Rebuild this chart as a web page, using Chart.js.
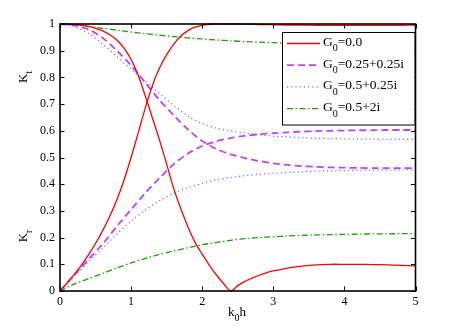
<!DOCTYPE html>
<html>
<head>
<meta charset="utf-8">
<script src="https://cdn.jsdelivr.net/npm/chart.js@4/dist/chart.umd.min.js"></script>
<style>
    html, body { margin: 0; padding: 0; background: #fff; }
    canvas { display: block; }
</style>
</head>
<body>
<canvas id="chart" width="458" height="327"></canvas>
<script>
/* ---------------------------
    DATA
------------------------------ */
const xs = [0, 0.2, 0.4, 0.6, 0.8, 1.0, 1.2, 1.4, 1.6, 1.8, 2.0, 2.2, 2.4, 2.6, 2.8,
    3.0, 3.2, 3.4, 3.6, 3.8, 4.0, 4.2, 4.4, 4.6, 4.8, 5.0];

const xsRed = [0, 0.1, 0.2, 0.3, 0.4, 0.5, 0.6, 0.7, 0.8, 0.9, 1.0, 1.1, 1.2, 1.3, 1.4,
    1.5, 1.6, 1.7, 1.8, 1.9, 2.0, 2.1, 2.2, 2.3, 2.4, 2.5, 2.6, 2.7, 2.8, 2.9, 3.0,
    3.2, 3.4, 3.6, 3.8, 4.0, 4.2, 4.4, 4.6, 4.8, 5.0];

// G0 = 0.0
const redFalling = [1, 1, 0.998, 0.995, 0.991, 0.984, 0.974, 0.96, 0.94, 0.91, 0.868,
    0.808, 0.73, 0.648, 0.565, 0.475, 0.383, 0.308, 0.24, 0.182, 0.138, 0.097, 0.06,
    0.028, 0, 0.02, 0.036, 0.048, 0.059, 0.068, 0.075,
    0.086, 0.093, 0.098, 0.1, 0.1, 0.1, 0.099, 0.098, 0.096, 0.094];
const redRising = [0, 0.03, 0.062, 0.096, 0.135, 0.178, 0.226, 0.28, 0.342, 0.415,
    0.5, 0.592, 0.686, 0.77, 0.835, 0.885, 0.925, 0.955, 0.975, 0.988, 0.995, 0.999,
    1, 1, 1, 1, 0.999, 0.999, 0.998, 0.998, 0.997,
    0.996, 0.996, 0.995, 0.995, 0.995, 0.995, 0.995, 0.995, 0.995, 0.996];

// G0 = 0.25+0.25i
const purpleKt = [1, 0.995, 0.98, 0.948, 0.9, 0.845, 0.78, 0.715, 0.658, 0.605, 0.562,
    0.532, 0.512, 0.498, 0.487, 0.478, 0.472, 0.468, 0.465, 0.463, 0.462, 0.461, 0.46,
    0.46, 0.46, 0.46];
const purpleKr = [0, 0.06, 0.118, 0.176, 0.242, 0.305, 0.367, 0.423, 0.475, 0.515, 0.543,
    0.561, 0.573, 0.581, 0.587, 0.591, 0.594, 0.597, 0.599, 0.6, 0.601, 0.602, 0.602,
    0.603, 0.603, 0.603];

// G0 = 0.5+0.25i
const blueKt = [1, 0.99, 0.965, 0.925, 0.878, 0.83, 0.785, 0.74, 0.695, 0.655, 0.627,
    0.61, 0.6, 0.592, 0.585, 0.58, 0.577, 0.574, 0.572, 0.571, 0.57, 0.569, 0.569,
    0.568, 0.568, 0.568];
const blueKr = [0, 0.055, 0.11, 0.16, 0.213, 0.262, 0.303, 0.338, 0.366, 0.387, 0.403,
    0.416, 0.425, 0.432, 0.437, 0.441, 0.444, 0.447, 0.449, 0.45, 0.451, 0.452, 0.453,
    0.453, 0.454, 0.454];

// G0 = 0.5+2i
const greenKt = [1, 0.997, 0.991, 0.984, 0.977, 0.97, 0.964, 0.958, 0.953, 0.948, 0.944,
    0.94, 0.937, 0.934, 0.932, 0.93, 0.928, 0.927, 0.926, 0.925, 0.924, 0.924, 0.923,
    0.923, 0.922, 0.922];
const greenKr = [0, 0.026, 0.046, 0.066, 0.086, 0.105, 0.122, 0.137, 0.15, 0.162, 0.173,
    0.182, 0.19, 0.196, 0.2, 0.203, 0.206, 0.208, 0.21, 0.211, 0.212, 0.213, 0.214,
    0.214, 0.215, 0.215];

const seriesNames = ["0.0", "0.25+0.25i", "0.5+0.25i", "0.5+2i"];
const xTickLabels = ["0", "1", "2", "3", "4", "5"];
const yTickLabels = ["0", "0.1", "0.2", "0.3", "0.4", "0.5", "0.6", "0.7", "0.8", "0.9", "1"];

/* ---------------------------
    STYLES
------------------------------ */
const SERIF = "'Liberation Serif', 'Times New Roman', serif";
const styles = [
    { color: "#ff0000", width: 1.3, dash: [] },
    { color: "#bf40ff", width: 1.8, dash: [7, 4] },
    { color: "#6b6bff", width: 1.2, dash: [1.2, 3] },
    { color: "#1f9e0f", width: 1.3, dash: [6, 2.5, 1.5, 2.5] }
];

function pts(xArr, yArr) {
    return xArr.map((x, i) => ({ x: x, y: yArr[i] }));
}

function line(xArr, yArr, s) {
    return {
        data: pts(xArr, yArr),
        borderColor: s.color,
        borderWidth: s.width,
        borderDash: s.dash,
        pointRadius: 0,
        tension: 0.3,
        fill: false,
        clip: 3
    };
}

const datasets = [
    line(xsRed, redFalling, styles[0]),
    line(xsRed, redRising, styles[0]),
    line(xs, purpleKt, styles[1]),
    line(xs, purpleKr, styles[1]),
    line(xs, blueKt, styles[2]),
    line(xs, blueKr, styles[2]),
    line(xs, greenKt, styles[3]),
    line(xs, greenKr, styles[3])
];

/* ---------------------------
    TEXT WITH SUBSCRIPT
------------------------------ */
function subText(ctx, x, y, main, sub, rest, size) {
    ctx.font = size + "px " + SERIF;
    ctx.fillText(main, x, y);
    let w = ctx.measureText(main).width;
    ctx.font = Math.round(size * 0.75) + "px " + SERIF;
    ctx.fillText(sub, x + w, y + size * 0.4);
    w += ctx.measureText(sub).width;
    ctx.font = size + "px " + SERIF;
    ctx.fillText(rest, x + w, y);
}

function subWidth(ctx, main, sub, rest, size) {
    ctx.font = size + "px " + SERIF;
    let w = ctx.measureText(main).width + ctx.measureText(rest).width;
    ctx.font = Math.round(size * 0.75) + "px " + SERIF;
    return w + ctx.measureText(sub).width;
}

/* ---------------------------
    FRAME, TICKS, TITLES, LEGEND
------------------------------ */
const matlabFrame = {
    id: "matlabFrame",
    afterDraw(chart) {
        const ctx = chart.ctx;
        const a = chart.chartArea;
        const sx = chart.scales.x;
        const sy = chart.scales.y;
        const tick = 4.5;

        ctx.save();
        ctx.strokeStyle = "#000";
        ctx.lineWidth = 1;
        ctx.setLineDash([]);
        ctx.beginPath();
        xTickLabels.forEach(t => {
            const px = Math.round(sx.getPixelForValue(Number(t))) + 0.5;
            ctx.moveTo(px, a.bottom); ctx.lineTo(px, a.bottom - tick);
            ctx.moveTo(px, a.top); ctx.lineTo(px, a.top + tick);
        });
        yTickLabels.forEach(t => {
            const py = Math.round(sy.getPixelForValue(Number(t))) + 0.5;
            ctx.moveTo(a.left, py); ctx.lineTo(a.left + tick, py);
            ctx.moveTo(a.right, py); ctx.lineTo(a.right - tick, py);
        });
        ctx.stroke();

        ctx.lineWidth = 1.6;
        ctx.strokeRect(a.left, a.top, a.right - a.left, a.bottom - a.top);

        // axis titles
        ctx.fillStyle = "#000";
        ctx.textBaseline = "alphabetic";
        ctx.textAlign = "left";
        const w0 = subWidth(ctx, "k", "0", "h", 13);
        subText(ctx, 237 - w0 / 2, 316, "k", "0", "h", 13);

        [["t", 77], ["r", 236]].forEach(([s, cy]) => {
            const w = subWidth(ctx, "K", s, "", 13);
            ctx.save();
            ctx.translate(27, cy);
            ctx.rotate(-Math.PI / 2);
            subText(ctx, -w / 2, 0, "K", s, "", 13);
            ctx.restore();
        });

        // legend
        const lx = 282, ly = 32, lw = 132.5, lh = 92.5;
        ctx.fillStyle = "#fff";
        ctx.fillRect(lx, ly, lw, lh);
        ctx.lineWidth = 1;
        ctx.strokeStyle = "#000";
        ctx.strokeRect(lx + 0.5, ly + 0.5, lw, lh);

        seriesNames.forEach((name, i) => {
            const base = 46 + i * 21.7;
            const s = styles[i];
            ctx.strokeStyle = s.color;
            ctx.lineWidth = s.width;
            ctx.setLineDash(s.dash);
            ctx.beginPath();
            ctx.moveTo(287, base - 2.5);
            ctx.lineTo(320, base - 2.5);
            ctx.stroke();
            ctx.setLineDash([]);
            ctx.fillStyle = "#000";
            subText(ctx, 323, base, "G", "0", "=" + name, 13.5);
        });
        ctx.restore();
    }
};

/* ---------------------------
    CHART
------------------------------ */
new Chart(document.getElementById("chart"), {
    type: "line",
    data: { datasets: datasets },
    options: {
        responsive: false,
        animation: false,
        events: [],
        layout: { padding: { left: 0, top: 24, right: 42.5, bottom: 0 } },
        plugins: { legend: { display: false }, tooltip: { enabled: false } },
        scales: {
            x: {
                type: "linear",
                min: 0,
                max: 5,
                afterFit: s => { s.height = 36; },
                afterBuildTicks: s => { s.ticks = xTickLabels.map(t => ({ value: Number(t) })); },
                grid: { display: false, drawTicks: false },
                border: { display: false },
                ticks: {
                    padding: 4,
                    color: "#000",
                    maxRotation: 0,
                    font: { family: SERIF, size: 12 },
                    callback: (v, i) => xTickLabels[i]
                }
            },
            y: {
                type: "linear",
                min: 0,
                max: 1,
                afterFit: s => { s.width = 60; },
                afterBuildTicks: s => { s.ticks = yTickLabels.map(t => ({ value: Number(t) })); },
                grid: { display: false, drawTicks: false },
                border: { display: false },
                ticks: {
                    padding: 5,
                    color: "#000",
                    font: { family: SERIF, size: 12 },
                    callback: (v, i) => yTickLabels[i]
                }
            }
        }
    },
    plugins: [matlabFrame]
});
</script>
</body>
</html>
